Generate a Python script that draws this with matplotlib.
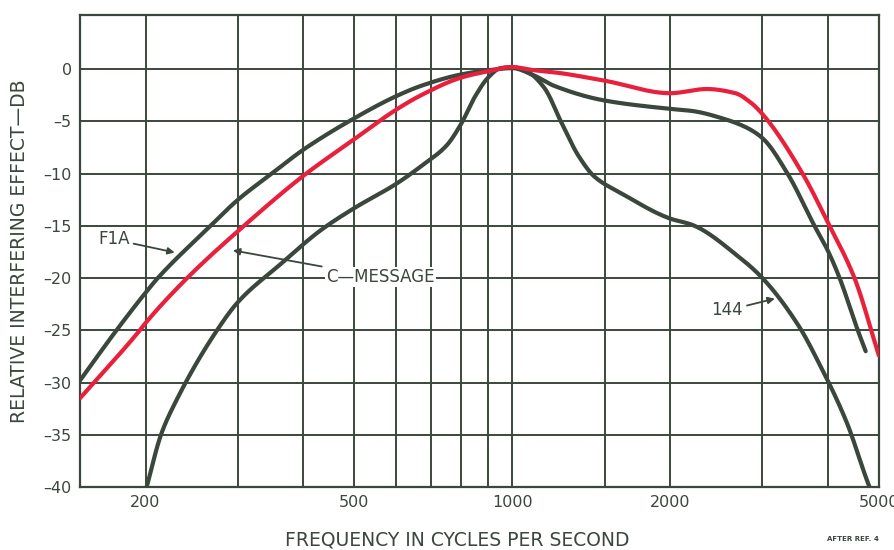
import numpy as np
import matplotlib.pyplot as plt
from matplotlib.ticker import FixedLocator, NullLocator

# frecuencias (Hz) y valores (dB)
f1a_freq = [150, 176, 200, 211, 266, 300, 348, 400, 500, 600, 670, 800, 900, 1000,
            1100, 1203, 1500, 2000, 2203, 2550, 2800, 3000, 3350, 3770, 4000, 4210, 4560, 4720]
f1a_db = [-29.8, -25.0, -21.4, -20.0, -15.0, -12.5, -10.0, -7.7, -4.7, -2.6, -1.6, -0.5, -0.1, 0.1,
          -0.6, -1.6, -3.0, -3.8, -4.0, -4.8, -5.6, -6.6, -10.0, -15.0, -17.4, -20.0, -25.0, -27.0]

cmsg_freq = [150, 195, 200, 240, 308, 400, 500, 600, 670, 800, 900, 1000,
             1100, 1203, 1500, 2000, 2350, 2664, 2850, 3000, 3578, 4000, 4494, 5000]
cmsg_db = [-31.5, -25.0, -24.3, -20.0, -15.0, -10.2, -6.7, -3.9, -2.5, -0.8, -0.2, 0.2,
           -0.1, -0.3, -1.1, -2.3, -1.9, -2.3, -3.2, -4.3, -10.0, -14.7, -20.0, -27.4]

c144_freq = [201, 214, 229, 272, 300, 363, 432, 500, 600, 670, 750, 800, 850, 900, 950, 1000,
             1073, 1152, 1241, 1338, 1436, 1617, 2000, 2203, 2710, 3000, 3520, 3850, 4350, 4750, 4800]
c144_db = [-40.0, -35.0, -31.7, -25.2, -22.3, -18.6, -15.4, -13.3, -11.0, -9.3, -7.3, -5.2, -2.6, -0.8, 0.1, 0.2,
           -0.3, -1.8, -5.1, -8.3, -10.3, -11.9, -14.3, -14.9, -18.0, -20.0, -24.6, -28.2, -33.9, -39.4, -40.0]

grid_x = [200, 300, 400, 500, 600, 700, 800, 900, 1000, 1500, 2000, 3000, 4000, 5000]
tick_x = [200, 500, 1000, 2000, 5000]
tick_y = [0, -5, -10, -15, -20, -25, -30, -35, -40]

oscuro = '#3b463c'
rojo = '#e8203c'

def suave(xs, ys, n=600):
    # cubica monotona (tipo pchip) en log10(f) solo para trazar la curva
    x = np.log10(np.array(xs, float))
    y = np.array(ys, float)
    h = np.diff(x)
    d = np.diff(y) / h
    m = np.zeros_like(y)
    for k in range(1, len(y) - 1):
        if d[k-1] * d[k] > 0:
            w1 = 2*h[k] + h[k-1]
            w2 = h[k] + 2*h[k-1]
            m[k] = (w1 + w2) / (w1/d[k-1] + w2/d[k])
    m[0] = d[0]
    m[-1] = d[-1]
    t = np.linspace(x[0], x[-1], n)
    i = np.clip(np.searchsorted(x, t) - 1, 0, len(h) - 1)
    s = (t - x[i]) / h[i]
    h00 = 2*s**3 - 3*s**2 + 1
    h10 = s**3 - 2*s**2 + s
    h01 = -2*s**3 + 3*s**2
    h11 = s**3 - s**2
    yy = h00*y[i] + h10*h[i]*m[i] + h01*y[i+1] + h11*h[i]*m[i+1]
    return 10**t, yy

fig = plt.figure(figsize=(8.94, 5.5), dpi=100)
ax = fig.add_axes([0.0895, 0.1145, 0.8935, 0.8585])
ax.set_xscale('log')
ax.set_xlim(150, 5000)
ax.set_ylim(-40, 5.2)

for gx in grid_x:
    ax.axvline(gx, color=oscuro, lw=1.4, zorder=1)
for gy in tick_y:
    ax.axhline(gy, color=oscuro, lw=1.4, zorder=1)

x, y = suave(f1a_freq, f1a_db)
ax.plot(x, y, color=oscuro, lw=3, zorder=3, solid_capstyle='round')
x, y = suave(c144_freq, c144_db)
ax.plot(x, y, color=oscuro, lw=3, zorder=3, solid_capstyle='round')
x, y = suave(cmsg_freq, cmsg_db)
ax.plot(x, y, color=rojo, lw=3, zorder=4, solid_capstyle='round')

ax.xaxis.set_major_locator(FixedLocator(tick_x))
ax.xaxis.set_minor_locator(NullLocator())
ax.set_xticklabels([str(v) for v in tick_x])
ax.yaxis.set_major_locator(FixedLocator(tick_y))
ax.set_yticklabels([('\u2013' + str(-v)) if v < 0 else '0' for v in tick_y])
ax.tick_params(length=0, colors=oscuro, labelsize=11.5, pad=6)
for sp in ax.spines.values():
    sp.set_color(oscuro)
    sp.set_linewidth(1.6)

fig.text(0.512, 0.019, 'FREQUENCY IN CYCLES PER SECOND', fontsize=13.5, color=oscuro,
         ha='center', va='center')
ax.set_ylabel('RELATIVE INTERFERING EFFECT\u2014DB', fontsize=13.5, color=oscuro, labelpad=10)

flecha = dict(arrowstyle='-|>', color=oscuro, lw=1.3, mutation_scale=10)
caja = dict(fc='white', ec='none', pad=1)
ax.annotate('F1A', xy=(230, -17.6), xytext=(174, -16.3), fontsize=12, color=oscuro,
            ha='center', va='center', arrowprops=flecha, zorder=6, bbox=caja)
ax.annotate('C\u2014MESSAGE', xy=(290, -17.3), xytext=(560, -19.9), fontsize=12, color=oscuro,
            ha='center', va='center', arrowprops=flecha, zorder=6, bbox=caja)
ax.annotate('144', xy=(3205, -21.9), xytext=(2570, -23.1), fontsize=12, color=oscuro,
            ha='center', va='center', arrowprops=flecha, zorder=6, bbox=caja)
fig.text(0.983, 0.017, 'AFTER REF. 4', fontsize=5, color=oscuro, ha='right', weight='bold')

fig.savefig('out.png', dpi=100)
